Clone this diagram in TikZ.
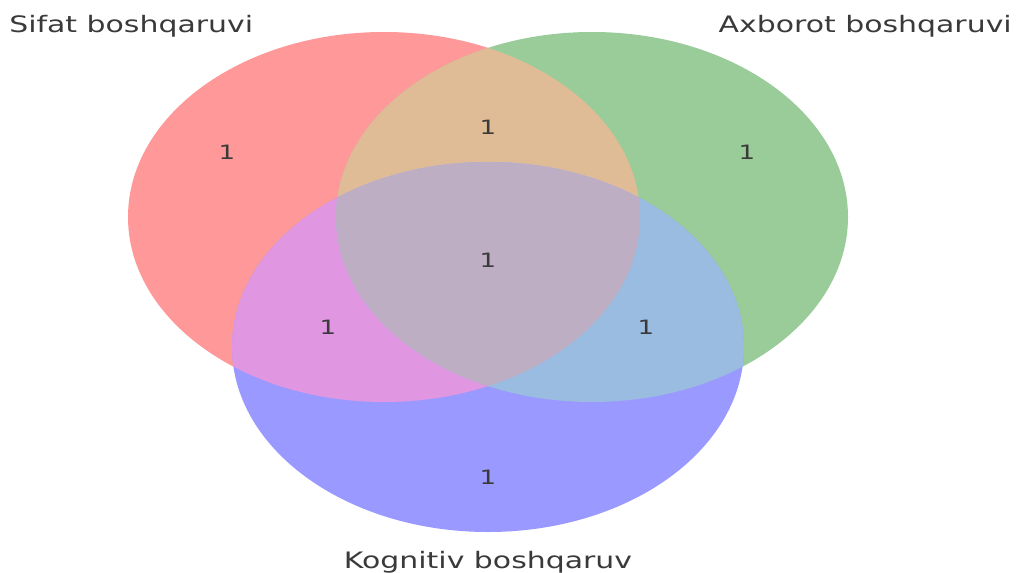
\documentclass[tikz,border=0pt]{standalone}
\usepackage{fontspec}
\setmainfont[FakeStretch=1.32]{DejaVu Sans}
\usepackage{tikz}

\definecolor{vred}{RGB}{255,153,153}
\definecolor{vgreen}{RGB}{153,204,153}
\definecolor{vblue}{RGB}{153,153,255}
\definecolor{vredgreen}{RGB}{224,188,150}
\definecolor{vredblue}{RGB}{224,150,224}
\definecolor{vgreenblue}{RGB}{153,188,224}
\definecolor{vall}{RGB}{190,174,196}
\definecolor{vtext}{RGB}{58,58,58}

\begin{document}
\begin{tikzpicture}[x=0.75pt,y=0.75pt,yscale=-1,xscale=1,
    setname/.style={inner sep=0pt,text=vtext,font=\fontsize{17}{20}\selectfont},
    count/.style={inner sep=0pt,text=vtext,font=\fontsize{14.8}{17}\selectfont},
    venn/.style={x radius=192pt,y radius=138.75pt}]
    \fill[white] (0,0) rectangle (1016,573);
    \useasboundingbox (0,0) rectangle (1016,573);

    \fill[vred]   (384,217) ellipse [venn];
    \fill[vgreen] (592,217) ellipse [venn];
    \fill[vblue]  (488,347) ellipse [venn];
    \begin{scope}
        \clip (384,217) ellipse [venn];
        \fill[vredgreen] (592,217) ellipse [venn];
        \fill[vredblue] (488,347) ellipse [venn];
    \end{scope}
    \begin{scope}
        \clip (592,217) ellipse [venn];
        \fill[vgreenblue] (488,347) ellipse [venn];
        \clip (384,217) ellipse [venn];
        \fill[vall] (488,347) ellipse [venn];
    \end{scope}

    \node (sifat) [setname,anchor=base west] at (9,33) {Sifat boshqaruvi};
    \node (axborot) [setname,anchor=base east] at (1012,33) {Axborot boshqaruvi};
    \node (kognitiv) [setname,anchor=base] at (488,568) {Kognitiv boshqaruv};

    \node (n100) [count] at (227,152) {1};
    \node (n010) [count] at (747,152) {1};
    \node (n110) [count] at (488,127) {1};
    \node (n111) [count] at (488,260) {1};
    \node (n101) [count] at (328,327) {1};
    \node (n011) [count] at (646,327) {1};
    \node (n001) [count] at (488,477) {1};
\end{tikzpicture}
\end{document}
